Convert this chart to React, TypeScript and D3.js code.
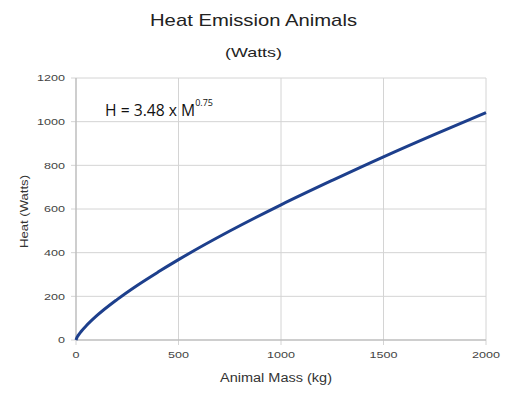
import React from 'react';
import * as d3 from 'd3';

// values
const massKg = [0, 5, 10, 25, 50, 100, 200, 300, 400, 500, 750, 1000, 1250, 1500, 1750, 2000];
const heatW = [0, 12, 20, 39, 65, 110, 185, 251, 311, 368, 499, 619, 731, 839, 942, 1041];
const xTicks = [0, 500, 1000, 1500, 2000];
const yTicks = [0, 200, 400, 600, 800, 1000, 1200];

const W = 514;
const H = 396;
const left = 76;
const right = 486;
const top = 78;
const bottom = 340;

const font = '"Liberation Sans", Arial, sans-serif';

// the reference text is a bit stretched horizontally, so widths are fixed with textLength
const Label = ({ children, width, ...rest }: any) => (
  <text fontFamily={font} textLength={width} lengthAdjust="spacingAndGlyphs" {...rest}>
    {children}
  </text>
);

export default function App() {
  const x = d3.scaleLinear().domain([0, 2000]).range([left, right]);
  const y = d3.scaleLinear().domain([0, 1200]).range([bottom, top]);

  const pts = massKg.map((m, i) => [m, heatW[i]] as [number, number]);
  const line = d3
    .line<[number, number]>()
    .x(d => x(d[0]))
    .y(d => y(d[1]))
    .curve(d3.curveMonotoneX);

  return (
    <div style={{ position: 'fixed', left: 0, top: 0 }}>
      <svg width={W} height={H} style={{ display: 'block', background: '#fff' }}>
        <Label x={150} y={26} width={207} fontSize={17} fill="#222">
          Heat Emission Animals
        </Label>
        <Label x={225} y={57} width={57} fontSize={13} fill="#222">
          (Watts)
        </Label>

        {/* grid */}
        {yTicks.map(t => (
          <g key={'y' + t}>
            <line x1={left - 5} x2={right} y1={y(t)} y2={y(t)} stroke="#d4d4d4" strokeWidth={1} />
            <Label
              x={65 - String(t).length * 7}
              y={y(t)}
              dy="0.35em"
              width={String(t).length * 7}
              fontSize={9.5}
              fill="#444"
            >
              {t}
            </Label>
          </g>
        ))}
        {xTicks.map(t => (
          <g key={'x' + t}>
            <line x1={x(t)} x2={x(t)} y1={top} y2={bottom + 5} stroke="#d4d4d4" strokeWidth={1} />
            <Label
              x={x(t) - String(t).length * 3.5}
              y={bottom + 18}
              width={String(t).length * 7}
              fontSize={9.5}
              fill="#444"
            >
              {t}
            </Label>
          </g>
        ))}
        <line x1={left} x2={left} y1={top} y2={bottom} stroke="#b3b3b3" />
        <line x1={left} x2={right} y1={bottom} y2={bottom} stroke="#b3b3b3" />

        <path d={line(pts) ?? ''} fill="none" stroke="#1d3f8c" strokeWidth={3} />

        <text x={105} y={116} fontFamily={'"Open Sans", sans-serif'} fontSize={15.7} fill="#111">
          H = 3.48 x M
          <tspan dy={-10} fontSize={9}>0.75</tspan>
        </text>

        <Label
          transform={`translate(28,248) rotate(-90)`}
          width={73}
          fontSize={11}
          fill="#333"
        >
          Heat (Watts)
        </Label>
        <Label x={220} y={382} width={112} fontSize={12} fill="#333">
          Animal Mass (kg)
        </Label>
      </svg>
    </div>
  );
}
